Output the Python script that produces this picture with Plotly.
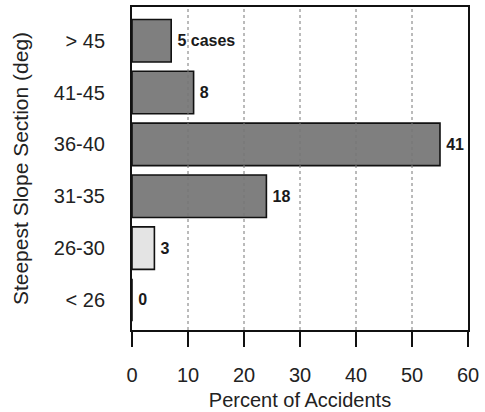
import plotly.graph_objects as go

categories = ["< 26", "26-30", "31-35", "36-40", "41-45", "> 45"]
percent = [0, 4, 24, 55, 11, 7]
case_labels = ["0", "3", "18", "41", "8", "5 cases"]
bar_colors = ["#7f7f7f", "#e4e4e4", "#7f7f7f", "#7f7f7f", "#7f7f7f", "#7f7f7f"]
x_ticks = [0, 10, 20, 30, 40, 50, 60]
grid_vals = [10, 20, 30, 40, 50]

font_family = "Liberation Sans, Arial, sans-serif"

fig = go.Figure()
fig.add_trace(go.Bar(
    x=percent, y=categories, orientation="h",
    marker=dict(color=bar_colors, line=dict(color="#111111", width=1.6)),
    text=case_labels, texttemplate="\u2009%{text}", textposition="outside", cliponaxis=False,
    textfont=dict(family=font_family, size=16, color="#1a1a1a", weight="bold"),
    hoverinfo="skip",
))

shapes = [
    dict(type="line", xref="x", yref="paper", x0=g, x1=g, y0=0, y1=1,
         line=dict(color="#777777", width=1, dash="dot"), layer="above")
    for g in grid_vals
]

fig.update_layout(
    width=485, height=412,
    margin=dict(l=132, r=17, t=7, b=82),
    paper_bgcolor="white", plot_bgcolor="white",
    bargap=0.18, showlegend=False,
    shapes=shapes,
    font=dict(family=font_family, color="#222222"),
)
fig.update_xaxes(
    range=[0, 60], tickvals=x_ticks, showgrid=False, zeroline=False,
    showline=True, mirror=True, linecolor="#111111", linewidth=2,
    ticks="outside", ticklen=15, tickwidth=2, tickcolor="#111111",
    ticklabelstandoff=11, layer="above traces", automargin=False,
    tickfont=dict(size=20, color="#222222"),
    title=dict(text="Percent of Accidents", font=dict(size=20, color="#222222"), standoff=8),
)
fig.update_yaxes(
    categoryorder="array", categoryarray=categories,
    range=[-0.58, 5.65], showgrid=False, zeroline=False,
    showline=True, mirror=True, linecolor="#111111", linewidth=2,
    ticks="", ticklabelstandoff=21, layer="above traces", automargin=False,
    tickfont=dict(size=20, color="#222222"),
    title=dict(text="Steepest Slope Section (deg)", font=dict(size=21, color="#222222"), standoff=19),
)

fig.write_html("out.html", config={"displayModeBar": False},
               post_script="document.body.style.margin='0';")
